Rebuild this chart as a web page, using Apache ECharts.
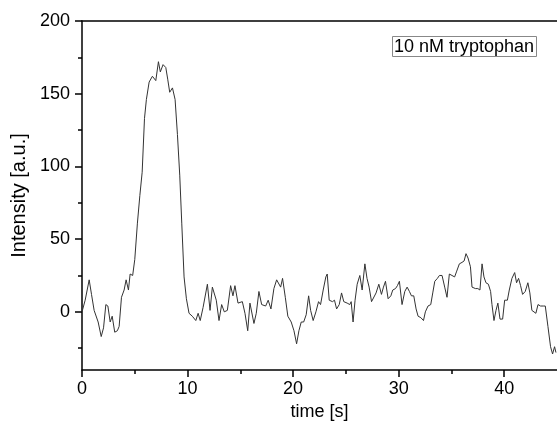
<!DOCTYPE html>
<html>
<head>
<meta charset="utf-8">
<script src="https://cdn.jsdelivr.net/npm/echarts@6/dist/echarts.min.js"></script>
<style>html,body{margin:0;padding:0;background:#fff;}#c{width:557px;height:430px;}</style>
</head>
<body>
<div id="c"></div>
<script>
const times = [0.0,0.3,0.68,0.9,1.15,1.53,1.82,2.04,2.26,2.45,2.67,2.86,3.1,3.35,3.52,3.74,3.99,4.18,4.4,4.56,4.8,5.0,5.25,5.48,5.7,5.92,6.1,6.36,6.67,6.99,7.24,7.42,7.68,7.94,8.12,8.31,8.57,8.82,9.04,9.26,9.45,9.67,9.89,10.14,10.45,10.78,11.0,11.2,11.47,11.88,12.13,12.35,12.72,12.98,13.23,13.48,13.77,14.08,14.3,14.49,14.78,15.19,15.44,15.7,15.91,16.29,16.51,16.76,17.02,17.4,17.64,17.9,18.18,18.44,18.6,18.82,19.0,19.26,19.5,19.82,20.08,20.33,20.55,20.77,21.0,21.24,21.47,21.66,21.9,22.16,22.41,22.6,22.85,23.1,23.23,23.42,23.73,23.92,24.12,24.37,24.59,24.8,25.12,25.37,25.5,25.68,25.87,26.07,26.32,26.54,26.8,27.0,27.2,27.43,27.6,27.86,28.12,28.37,28.56,28.75,29.0,29.26,29.44,29.7,29.88,30.07,30.32,30.58,30.8,31.02,31.21,31.43,31.65,31.84,32.1,32.35,32.53,32.78,33.04,33.23,33.42,33.67,33.86,34.11,34.36,34.58,34.8,35.05,35.3,35.5,35.75,36.0,36.2,36.38,36.57,36.8,36.95,37.27,37.5,37.7,37.9,38.08,38.27,38.5,38.71,38.84,39.03,39.22,39.4,39.6,39.85,40.04,40.3,40.48,40.73,40.99,41.17,41.36,41.55,41.74,41.99,42.24,42.43,42.62,42.8,43.0,43.2,43.44,43.7,43.89,44.14,44.39,44.58,44.77,44.9];
const intensity = [0,8,22,12,1,-7,-17,-11,5,4,-7,-3,-14,-13,-10,10,15,22,15,26,25,36,61,80,96,133,146,158,162,159,172,165,170,168,160,151,154,146,122,94,61,24,9,-1,-3,-6,-1,-6,3,19,1,17,8,-6,5,0,1,18,11,18,6,7,-1,-13,6,-8,-1,14,5,4,8,2,16,22,23,17,23,10,-3,-7,-13,-22,-13,-7,-7,-2,11,1,-6,0,7,5,15,24,26,8,7,8,2,5,13,7,6,5,7,-7,8,19,25,15,33,23,17,7,8,13,19,12,17,21,9,11,15,16,18,21,5,14,17,14,11,11,2,-3,-4,-6,0,4,5,13,21,23,25,25,17,10,26,25,24,28,33,34,35,40,37,31,17,16,16,15,33,24,20,19,14,5,-6,1,6,-5,-5,8,8,15,23,27,20,23,18,12,14,20,13,1,1,-1,5,4,4,4,-10,-24,-29,-24,-28];
const yMajorTicks = [0,50,100,150,200];
const yMinorTicks = [-25,25,75,125,175];
const xMinorTicks = [5,15,25,35];
const seriesName = '10 nM tryptophan';
const xTitle = 'time [s]';
const yTitle = 'Intensity [a.u.]';

const data = times.map((t,i)=>[t,intensity[i]]);
const font = 'Liberation Sans, Arial, sans-serif';
const chart = echarts.init(document.getElementById('c'), null, {renderer:'canvas'});
chart.setOption({
  animation:false,
  backgroundColor:'#fff',
  title:{text:seriesName,left:392,top:36,padding:[2,3,1,2],borderColor:'#888',borderWidth:1,
    textStyle:{fontFamily:font,fontSize:18,fontWeight:'normal',color:'#000'}},
  grid:{left:82,right:0,top:21,bottom:60,containLabel:false},
  xAxis:[
    {type:'value',min:0,max:45,interval:10,position:'bottom',
     name:xTitle,nameLocation:'middle',nameGap:29,
     nameTextStyle:{fontFamily:font,fontSize:18,color:'#000'},
     axisLine:{show:true,onZero:false,lineStyle:{color:'#000',width:1.5}},
     axisTick:{show:true,inside:false,length:7,lineStyle:{color:'#000',width:1.5}},
     axisLabel:{fontFamily:font,fontSize:18,color:'#000',margin:10,showMaxLabel:false},
     splitLine:{show:false}},
    {type:'value',min:0,max:45,position:'top',
     axisLine:{show:true,onZero:false,lineStyle:{color:'#000',width:1.5}},
     axisTick:{show:false},axisLabel:{show:false},splitLine:{show:false}},
    {type:'value',min:0,max:45,position:'bottom',
     axisLine:{show:false,onZero:false},
     axisTick:{show:true,length:4,customValues:xMinorTicks,lineStyle:{color:'#000',width:1.5}},
     axisLabel:{show:false},splitLine:{show:false}}
  ],
  yAxis:[
    {type:'value',min:-40,max:200,position:'left',
     name:yTitle,nameLocation:'middle',nameGap:50,
     nameTextStyle:{fontFamily:font,fontSize:20,color:'#000'},
     axisLine:{show:true,onZero:false,lineStyle:{color:'#000',width:1.5}},
     axisTick:{show:true,length:7,customValues:yMajorTicks,lineStyle:{color:'#000',width:1.5}},
     axisLabel:{fontFamily:font,fontSize:18,color:'#000',margin:12,customValues:yMajorTicks},
     splitLine:{show:false}},
    {type:'value',min:-40,max:200,position:'left',
     axisLine:{show:false,onZero:false},
     axisTick:{show:true,length:4,customValues:yMinorTicks,lineStyle:{color:'#000',width:1.5}},
     axisLabel:{show:false},splitLine:{show:false}}
  ],
  series:[{name:seriesName,type:'line',xAxisIndex:0,yAxisIndex:0,data:data,
    showSymbol:false,symbol:'none',lineStyle:{color:'#333',width:1}}]
});
</script>
</body>
</html>
